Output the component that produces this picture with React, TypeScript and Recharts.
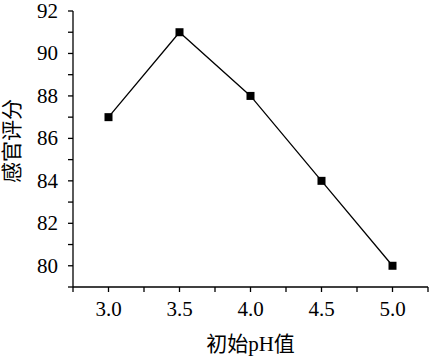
import React from 'react';
import { LineChart, Line, XAxis, YAxis, Label } from 'recharts';

const phValues = [3.0, 3.5, 4.0, 4.5, 5.0];
const scores = [87, 91, 88, 84, 80];
const xTicks = [2.75, 3.0, 3.25, 3.5, 3.75, 4.0, 4.25, 4.5, 4.75, 5.0, 5.25];
const yTicks = [79, 80, 81, 82, 83, 84, 85, 86, 87, 88, 89, 90, 91, 92];
const xLabel = '初始pH值';
const yLabel = '感官评分';

const data = phValues.map((p, i) => ({ ph: p, score: scores[i] }));

const FONT = "'Liberation Serif', 'Times New Roman', 'Noto Sans CJK SC', serif";

const XTick = (props: any) => {
  const { x, y, payload } = props;
  const v = payload.value as number;
  const major = Math.abs(v * 2 - Math.round(v * 2)) < 1e-6;
  if (!major) return <g />;
  return (
    <text x={x} y={y + 18} textAnchor="middle" style={{ fontFamily: FONT, fontSize: 21, fill: '#000' }}>
      {v.toFixed(1)}
    </text>
  );
};

const YTick = (props: any) => {
  const { x, y, payload } = props;
  const v = payload.value as number;
  const major = v % 2 === 0;
  if (!major) return <g />;
  return (
    <text x={x - 2} y={y + 7} textAnchor="end" style={{ fontFamily: FONT, fontSize: 21, fill: '#000' }}>
      {v}
    </text>
  );
};

const SquareDot = (props: any) => {
  const { cx, cy } = props;
  return <rect x={cx - 4} y={cy - 4} width={8} height={8} fill="#000" />;
};

const YLabelContent = (props: any) => {
  const { viewBox } = props;
  const cy = viewBox.y + viewBox.height / 2 - 8;
  const cx = 12;
  return (
    <text
      x={cx}
      y={cy}
      transform={`rotate(-90, ${cx}, ${cy})`}
      textAnchor="middle"
      dominantBaseline="central"
      style={{ fontFamily: FONT, fontSize: 21, fill: '#000' }}
    >
      {yLabel}
    </text>
  );
};

const XLabelContent = (props: any) => {
  const { viewBox } = props;
  const cx = viewBox.x + viewBox.width / 2;
  return (
    <text x={cx} y={351} textAnchor="middle" style={{ fontFamily: FONT, fontSize: 21, fill: '#000' }}>
      {xLabel}
    </text>
  );
};

export default function App() {
  return (
    <div style={{ position: 'absolute', left: 0, top: 0, background: '#fff' }}>
      <LineChart width={429} height={359} data={data} margin={{ top: 11, right: 1, bottom: 0, left: 0 }}>
        <XAxis
          dataKey="ph"
          type="number"
          domain={[2.75, 5.25]}
          ticks={xTicks}
          interval={0}
          tick={<XTick />}
          tickSize={5}
          tickMargin={6}
          stroke="#000"
          strokeWidth={1.3}
          height={72}
        >
          <Label content={<XLabelContent />} />
        </XAxis>
        <YAxis
          type="number"
          domain={[79, 92]}
          ticks={yTicks}
          interval={0}
          tick={<YTick />}
          tickSize={5}
          tickMargin={8}
          stroke="#000"
          strokeWidth={1.3}
          width={73}
        >
          <Label content={<YLabelContent />} />
        </YAxis>
        <Line
          dataKey="score"
          stroke="#000"
          strokeWidth={1.3}
          dot={<SquareDot />}
          activeDot={false}
          isAnimationActive={false}
        />
      </LineChart>
    </div>
  );
}
